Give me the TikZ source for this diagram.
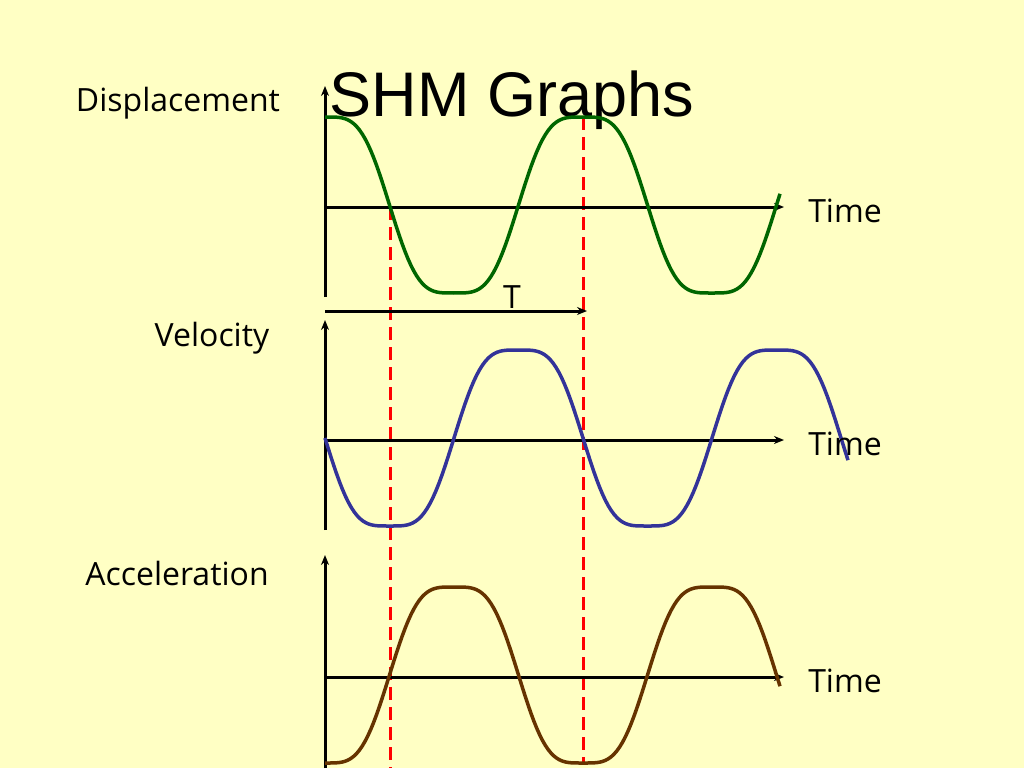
\documentclass[tikz,border=0pt]{standalone}
\usepackage{fontspec}
\setmainfont{Open Sans}
\newfontfamily\titlefont{Liberation Sans}
\usetikzlibrary{arrows.meta}
\definecolor{bg}{HTML}{FFFFC4}
\definecolor{dgreen}{HTML}{006600}
\definecolor{dblue}{HTML}{333399}
\definecolor{dbrown}{HTML}{663300}
\begin{document}
\begin{tikzpicture}[x=1pt,y=-1pt,
  axis/.style={line width=3pt,-{Stealth[length=10pt,width=8pt]}},
  curve/.style={line width=3.5pt},
  lab/.style={font=\fontsize{32}{36}\selectfont,inner sep=0pt},
  redline/.style={red,line width=3pt,dash pattern=on 13pt off 7pt},
  declare function={fc(\t)=1.125*cos(\t)-0.125*cos(3*\t); fs(\t)=1.125*sin(\t)+0.125*sin(3*\t);}]
\fill[bg] (0,0) rectangle (1024,768);
\useasboundingbox (0,0) rectangle (1024,768);
% title
\node[font=\titlefont\fontsize{63}{66}\selectfont,inner sep=0pt] (title) at (512,100) {SHM Graphs};
% red dashed
\coordinate (r1a) at (390,207); \coordinate (r1b) at (390,768);
\coordinate (r2a) at (583,117); \coordinate (r2b) at (583,762);
\draw[redline] (r1a) -- (r1b);
\draw[redline] (r2a) -- (r2b);
% displacement
\coordinate (d0) at (325,297); \coordinate (d1) at (325,86);
\coordinate (dt0) at (325,207); \coordinate (dt1) at (784,207);
\draw[axis] (d0) -- (d1);
\draw[axis] (dt0) -- (dt1);
\draw[curve,dgreen] plot[domain=325:780,samples=160] (\x,{205-88*fc((\x-325)/258*360)});
\coordinate (T0) at (325,311); \coordinate (T1) at (587,311);
\draw[axis] (T0) -- (T1);
\node[lab] (Tl) at (512,297) {T};
% velocity
\coordinate (v0) at (325,530); \coordinate (v1) at (325,320);
\coordinate (vt0) at (325,440); \coordinate (vt1) at (784,440);
\draw[axis] (v0) -- (v1);
\draw[axis] (vt0) -- (vt1);
\draw[curve,dblue] plot[domain=325:848,samples=180] (\x,{438+88*fs((\x-325)/258*360)});
% acceleration
\coordinate (a0) at (325,768); \coordinate (a1) at (325,555);
\coordinate (at0) at (325,677); \coordinate (at1) at (784,677);
\draw[axis] (a0) -- (a1);
\draw[axis] (at0) -- (at1);
\draw[curve,dbrown] plot[domain=325:780,samples=160] (\x,{675+88*fc((\x-325)/258*360)});
% labels
\node[lab] (ld) at (178,103) {Displacement};
\node[lab] (lv) at (212,338) {Velocity};
\node[lab] (la) at (177,573) {Acceleration};
\node[lab] (t1) at (845,211) {Time};
\node[lab] (t2) at (845,444) {Time};
\node[lab] (t3) at (845,681) {Time};
\end{tikzpicture}
\end{document}
